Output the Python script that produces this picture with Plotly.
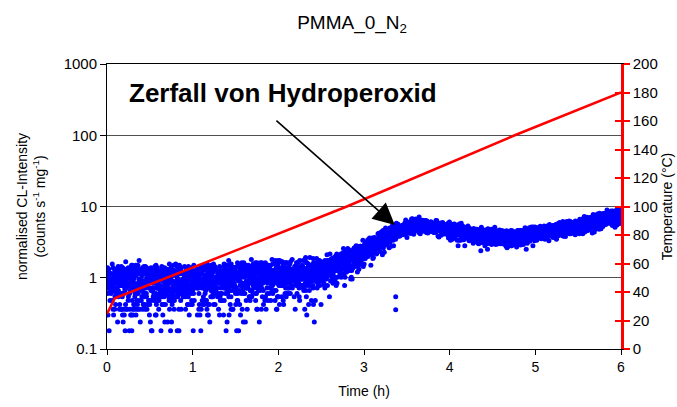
import numpy as np
import plotly.graph_objects as go

# CL intensity trend: median level and linear spread at reference times (h)
knot_time_h = [0, 0.5, 1.0, 1.45, 1.93, 2.40, 2.70, 2.89, 3.09, 3.28, 3.39, 3.57,
               3.77, 3.96, 4.14, 4.34, 4.54, 4.73, 4.93, 5.12, 5.31, 5.51, 5.70, 5.79, 6.0]
knot_median = [0.85, 0.82, 0.85, 0.93, 1.03, 1.1, 1.5, 1.9, 2.7, 3.75, 4.4, 5.35,
               5.35, 4.85, 4.4, 3.87, 3.75, 3.63, 4.0, 4.4, 4.85, 5.35, 6.3, 6.7, 7.4]
knot_spread = [0.34, 0.33, 0.33, 0.33, 0.33, 0.34, 0.36, 0.40, 0.45, 0.50, 0.55, 0.60,
               0.60, 0.57, 0.55, 0.50, 0.50, 0.50, 0.52, 0.55, 0.60, 0.65, 0.75, 0.80, 0.90]

# normalised deviations of the individual readings around the trend
dev_a = [0.31, -1.12, 0.84, -0.27, 1.65, -0.73, 0.05, -1.58, 0.62, 1.07, -0.41, -0.95,
         0.18, 2.21, -0.06, -1.89, 0.47, 0.93, -0.58, 1.34, -0.19, -2.34, 0.71, 0.12,
         -0.84, 1.88, -0.35, 0.56, -1.27, 0.26, 1.19, -0.66, -0.11, 0.99, -1.43, 0.38,
         -0.49, 1.51, -0.02, -1.01, 0.79, 0.21, -0.77, 2.05, -0.31, 0.44, -1.69, 0.67,
         -0.15, 1.26, -0.88, 0.09, -0.53]
dev_b = [-0.44, 1.02, -1.36, 0.15, 0.68, -0.22, 1.73, -0.81, 0.33, -1.05, 0.02, 1.41,
         -0.61, -0.13, 0.89, -2.02, 0.52, -0.37, 1.17, -0.92, 0.24, 0.76, -1.51, -0.08,
         1.96, -0.69, 0.41, -0.29, 1.29, -1.19, 0.07, 0.58, -0.47, -1.77, 0.95, 0.19,
         -0.99, 1.57, -0.17, 0.36, -0.63, 1.11, -1.31, 0.28, 0.82, -0.03, -0.56]

# isolated low readings
outlier_time_h = [0.84, 1.39, 3.37, 3.37]
outlier_intensity = [0.18, 0.18, 0.54, 0.355]

# oven temperature programme
temp_time_h = [0, 0.09, 1.44, 2.80, 4.76, 6.0]
temp_c = [24.6, 35.6, 67.6, 100, 150, 180]

count_step = 0.06      # resolution of the normalised photon count
n_samples = 3601       # one reading every 6 s

t = np.linspace(0, 6, n_samples)
med = 10 ** np.interp(t, knot_time_h, np.log10(knot_median))
sd = np.interp(t, knot_time_h, knot_spread)
idx = np.arange(n_samples)
a = np.array(dev_a)
b = np.array(dev_b)
z = (a[idx % len(a)] + b[idx % len(b)]) / np.sqrt(2)
cl = np.round((med + sd * z) / count_step) * count_step
cl = np.maximum(cl, 0.18)

t_all = np.concatenate([t, outlier_time_h])
cl_all = np.concatenate([cl, outlier_intensity])

FONT = "Liberation Sans, Arial, sans-serif"

fig = go.Figure()
fig.add_trace(go.Scatter(
    x=t_all, y=cl_all, mode="markers",
    marker=dict(color="#0000FF", size=5, line=dict(width=0)),
    xaxis="x", yaxis="y", showlegend=False, hoverinfo="skip"))
fig.add_trace(go.Scatter(
    x=temp_time_h, y=temp_c, mode="lines",
    line=dict(color="#FF0000", width=2.5),
    xaxis="x", yaxis="y2", showlegend=False))
# carrier for the inner tick marks of the temperature axis
fig.add_trace(go.Scatter(x=[None], y=[None], xaxis="x", yaxis="y3",
                         showlegend=False, hoverinfo="skip"))

fig.update_layout(
    width=677, height=407,
    margin=dict(l=107, r=56, t=64, b=58, autoexpand=False),
    paper_bgcolor="white", plot_bgcolor="white",
    font=dict(family=FONT, size=14, color="black"),
    title=dict(text="PMMA_0_N<sub>2</sub>", x=0.52, xanchor="center",
               y=0.945, yanchor="middle",
               font=dict(family="Liberation Sans Narrow, Liberation Sans, Arial", size=19)),
    xaxis=dict(range=[0, 6], dtick=1, tick0=0, showgrid=False, zeroline=False,
               showline=True, linecolor="black", linewidth=1, mirror=True,
               ticks="outside", ticklen=5, tickcolor="black",
               tickfont=dict(size=14), automargin=False,
               title=dict(text="Time (h)", font=dict(size=14), standoff=12)),
    yaxis=dict(type="log", range=[-1, 3],
               tickvals=[0.1, 1, 10, 100, 1000], ticktext=["0.1", "1", "10", "100", "1000"],
               showgrid=True, gridcolor="#505050", gridwidth=1, zeroline=False,
               showline=True, linecolor="black", linewidth=1,
               ticks="outside", ticklen=6, tickcolor="black",
               tickfont=dict(size=15), automargin=False,
               title=dict(text="normalised CL-Intensity<br>(counts s<sup>-1</sup> mg<sup>-1</sup>)",
                          font=dict(size=14), standoff=14)),
    yaxis2=dict(range=[0, 200], dtick=20, tick0=0, overlaying="y", side="right",
                showgrid=False, zeroline=False, automargin=False,
                showline=True, linecolor="#FF0000", linewidth=2.5,
                ticks="outside", ticklen=6, tickwidth=2, tickcolor="#FF0000",
                tickfont=dict(size=15),
                title=dict(text="Temperature (°C)", font=dict(size=14), standoff=6)),
    yaxis3=dict(range=[0, 200], dtick=20, tick0=0, overlaying="y", side="right",
                showgrid=False, zeroline=False, showline=False, automargin=False,
                ticks="inside", ticklen=6, tickwidth=2, tickcolor="#FF0000",
                showticklabels=False),
)

fig.add_annotation(
    x=3.36, y=np.log10(5.5), xref="x", yref="y",
    ax=1.96, ay=2.224, axref="x", ayref="y",
    text="", showarrow=True, arrowhead=2, arrowsize=2.7, arrowwidth=1.6,
    arrowcolor="black", standoff=0)
fig.add_annotation(
    x=2.06, y=2.60, xref="x", yref="y",
    text="<b>Zerfall von Hydroperoxid</b>", showarrow=False,
    xanchor="center", yanchor="middle",
    font=dict(family=FONT, size=26, color="black"))

fig.write_html("out.html")
